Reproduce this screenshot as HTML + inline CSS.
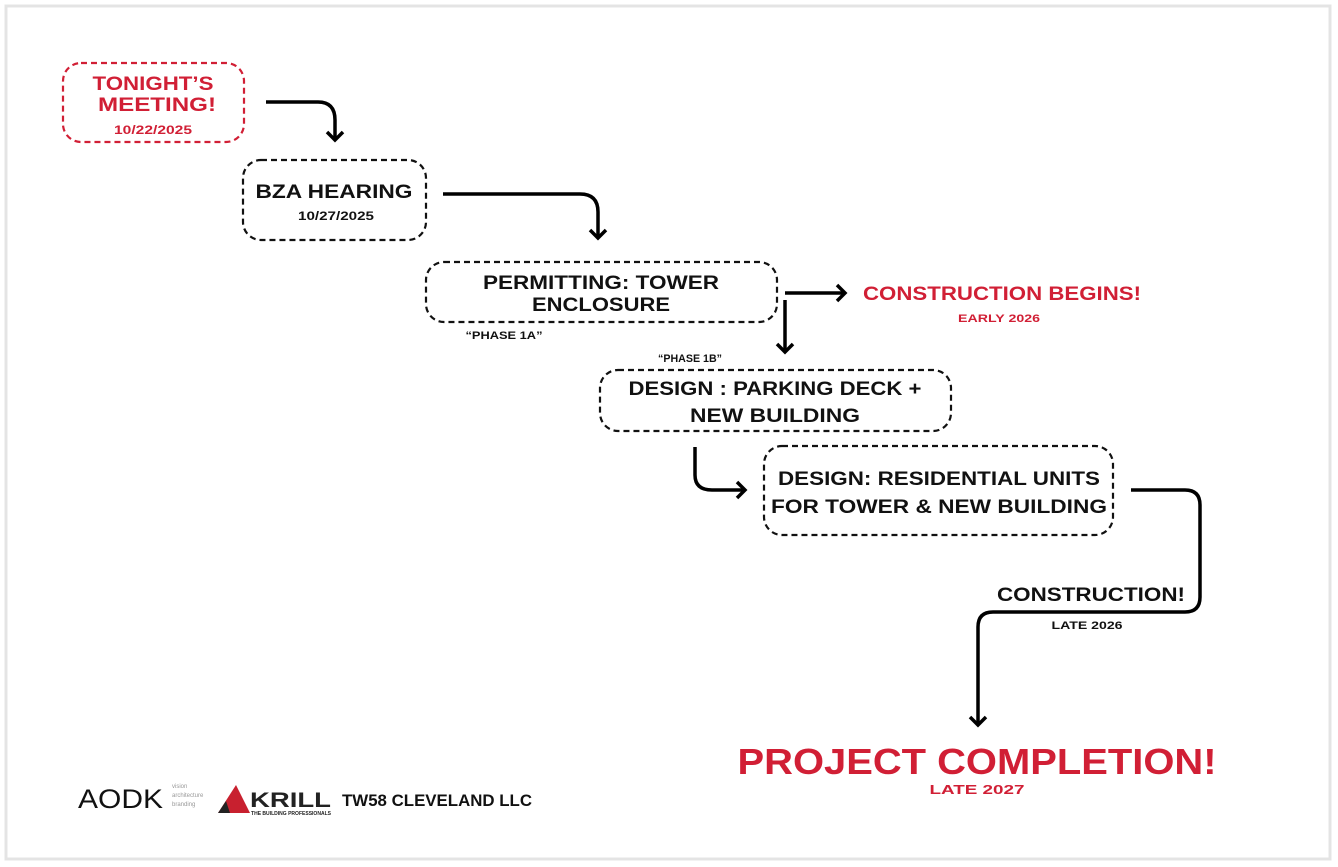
<!DOCTYPE html>
<html><head><meta charset="utf-8"><style>
html,body{margin:0;padding:0;background:#fff}
svg{display:block}
text{font-family:"Liberation Sans",Arial,sans-serif;font-weight:bold}
</style></head><body>
<svg width="1338" height="867" viewBox="0 0 1338 867" xmlns="http://www.w3.org/2000/svg">
<rect x="0" y="0" width="1338" height="867" fill="#fff"/>
<rect x="6" y="6" width="1324" height="853" fill="none" stroke="#e4e4e4" stroke-width="3"/>
<g fill="none" stroke-width="2.2" stroke-dasharray="6,4">
<rect x="63" y="63" width="181" height="79" rx="18" stroke="#d11f35"/>
<rect x="243" y="160" width="183" height="80" rx="18" stroke="#111"/>
<rect x="426" y="262" width="351" height="60" rx="18" stroke="#111"/>
<rect x="600" y="370" width="351" height="61" rx="18" stroke="#111"/>
<rect x="764" y="446" width="349" height="89" rx="18" stroke="#111"/>
</g>
<g fill="none" stroke="#000" stroke-width="3.5" stroke-linejoin="miter">
<path d="M266,102 H318 Q335,102 335,120 V140"/>
<path d="M327,132 L335,140 L343,132"/>
<path d="M443,194 H580 Q598,194 598,212 V238"/>
<path d="M590,230 L598,238 L606,230"/>
<path d="M785,293 H845"/>
<path d="M837,285 L845,293 L837,301"/>
<path d="M785,300 V352"/>
<path d="M777,344 L785,352 L793,344"/>
<path d="M695,447 V475 Q695,490 712,490 H745"/>
<path d="M737,482 L745,490 L737,498"/>
<path d="M1131,490 H1185 Q1200,490 1200,505 V597 Q1200,612 1185,612 H993 Q978,612 978,627 V725"/>
<path d="M970,717 L978,725 L986,717"/>
</g>
<g text-anchor="middle" lengthAdjust="spacingAndGlyphs">
<text x="153" y="90" font-size="19" fill="#d11f35" textLength="121" lengthAdjust="spacingAndGlyphs">TONIGHT’S</text>
<text x="157" y="111" font-size="19" fill="#d11f35" textLength="118" lengthAdjust="spacingAndGlyphs">MEETING!</text>
<text x="153" y="134" font-size="12" fill="#d11f35" textLength="78" lengthAdjust="spacingAndGlyphs">10/22/2025</text>
<text x="334" y="198" font-size="19" fill="#111" textLength="157" lengthAdjust="spacingAndGlyphs">BZA HEARING</text>
<text x="336" y="220" font-size="12" fill="#111" textLength="76" lengthAdjust="spacingAndGlyphs">10/27/2025</text>
<text x="601" y="289" font-size="19" fill="#111" textLength="236" lengthAdjust="spacingAndGlyphs">PERMITTING: TOWER</text>
<text x="601" y="311" font-size="19" fill="#111" textLength="138" lengthAdjust="spacingAndGlyphs">ENCLOSURE</text>
<text x="504" y="339" font-size="11" fill="#111" textLength="77" lengthAdjust="spacingAndGlyphs">“PHASE 1A”</text>
<text x="1002" y="300" font-size="19" fill="#d11f35" textLength="278" lengthAdjust="spacingAndGlyphs">CONSTRUCTION BEGINS!</text>
<text x="999" y="322" font-size="11" fill="#d11f35" textLength="82" lengthAdjust="spacingAndGlyphs">EARLY 2026</text>
<text x="690" y="362" font-size="11" fill="#111" textLength="64" lengthAdjust="spacingAndGlyphs">“PHASE 1B”</text>
<text x="775" y="395" font-size="19" fill="#111" textLength="293" lengthAdjust="spacingAndGlyphs">DESIGN : PARKING DECK +</text>
<text x="775" y="422" font-size="19" fill="#111" textLength="170" lengthAdjust="spacingAndGlyphs">NEW BUILDING</text>
<text x="939" y="485" font-size="19" fill="#111" textLength="322" lengthAdjust="spacingAndGlyphs">DESIGN: RESIDENTIAL UNITS</text>
<text x="939" y="513" font-size="19" fill="#111" textLength="336" lengthAdjust="spacingAndGlyphs">FOR TOWER &amp; NEW BUILDING</text>
<text x="1091" y="601" font-size="19" fill="#111" textLength="188" lengthAdjust="spacingAndGlyphs">CONSTRUCTION!</text>
<text x="1087" y="629" font-size="11" fill="#111" textLength="71" lengthAdjust="spacingAndGlyphs">LATE 2026</text>
<text x="977" y="774" font-size="36" fill="#d11f35" textLength="479" lengthAdjust="spacingAndGlyphs">PROJECT COMPLETION!</text>
<text x="977" y="794" font-size="13" fill="#d11f35" textLength="95" lengthAdjust="spacingAndGlyphs">LATE 2027</text>
</g>
<text x="78" y="808" font-size="27" style="font-weight:normal" fill="#111" textLength="85" lengthAdjust="spacingAndGlyphs">AODK</text>
<text x="172" y="788" font-size="6" style="font-weight:normal" fill="#999">vision</text>
<text x="172" y="797" font-size="6" style="font-weight:normal" fill="#999">architecture</text>
<text x="172" y="806" font-size="6" style="font-weight:normal" fill="#999">branding</text>
<polygon points="218,813 236,785 250,813" fill="#c8202f"/>
<polygon points="218,813 226,801 230,813" fill="#222"/>
<text x="250" y="807" font-size="21" fill="#222" textLength="81" lengthAdjust="spacingAndGlyphs">KRILL</text>
<text x="251" y="815" font-size="5.5" fill="#222" textLength="80" lengthAdjust="spacingAndGlyphs">THE BUILDING PROFESSIONALS</text>
<text x="342" y="806" font-size="17" fill="#111" textLength="190" lengthAdjust="spacingAndGlyphs">TW58 CLEVELAND LLC</text>
</svg>
</body></html>
